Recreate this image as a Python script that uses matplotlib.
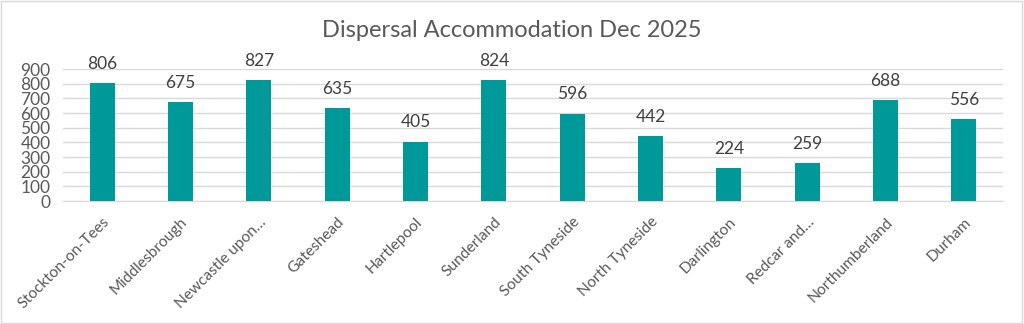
import matplotlib
matplotlib.use("Agg")
import matplotlib.pyplot as plt
from matplotlib.patches import Rectangle

categories = ["Stockton-on-Tees", "Middlesbrough", "Newcastle upon…", "Gateshead",
              "Hartlepool", "Sunderland", "South Tyneside", "North Tyneside",
              "Darlington", "Redcar and…", "Northumberland", "Durham"]
values = [806, 675, 827, 635, 405, 824, 596, 442, 224, 259, 688, 556]
yticks = [0, 100, 200, 300, 400, 500, 600, 700, 800, 900]
title = "Dispersal Accommodation Dec 2025"

plt.rcParams['font.family'] = ['Lato', 'DejaVu Sans']
fig = plt.figure(figsize=(10.24, 3.24), dpi=100)
ax = fig.add_axes([0.0615, 0.3796, 0.918, 0.4074])

x = range(len(categories))
bars = ax.bar(x, values, width=0.32, color="#009999", zorder=3)
for xi, v in zip(x, values):
    ax.annotate(str(v), (xi, v), xytext=(0, 8), textcoords="offset points",
                ha="center", va="bottom", fontsize=12.5, color="#404040", clip_on=False)

ax.set_xlim(-0.5, len(categories) - 0.5)
ax.set_ylim(0, 900)
ax.set_yticks(yticks)
ax.set_yticklabels([str(t) for t in yticks], fontsize=12.5, color="#595959")
ax.set_xticks(list(x))
ax.set_xticklabels(categories, rotation=45, ha="right", rotation_mode="anchor",
                   fontsize=11.2, color="#595959")
ax.tick_params(axis="x", length=0, pad=10)
ax.tick_params(axis="y", length=0, pad=9)
ax.grid(axis="y", color="#d9d9d9", linewidth=1, zorder=0)
for s in ["top", "right", "left"]:
    ax.spines[s].set_visible(False)
ax.spines["bottom"].set_color("#d9d9d9")

fig.text(0.5, 0.905, title, ha="center", va="center", fontsize=17, color="#595959")
fig.patches.append(Rectangle((0.001, 0.002), 0.997, 0.995, transform=fig.transFigure,
                             fill=False, edgecolor="#d9d9d9", linewidth=1))
fig.savefig("out.png", dpi=100)
